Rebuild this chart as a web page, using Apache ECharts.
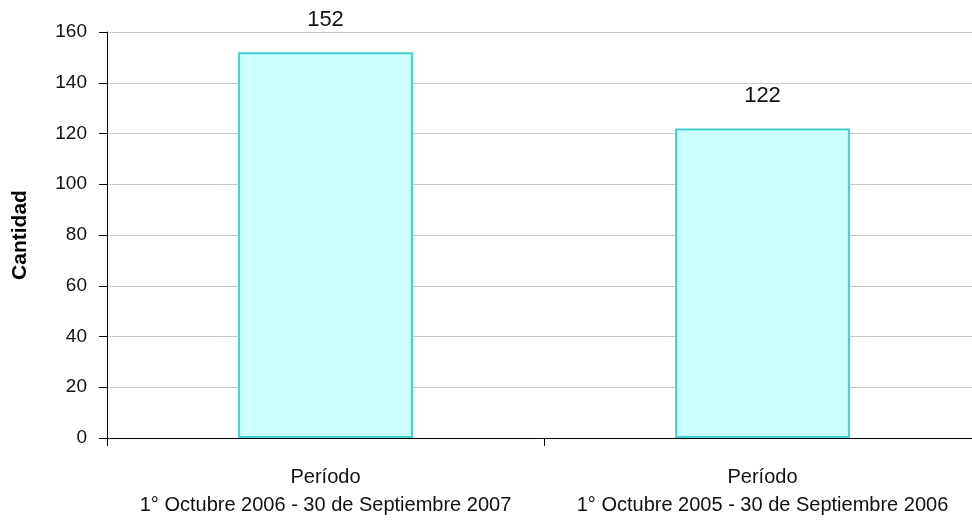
<!DOCTYPE html>
<html>
<head>
<meta charset="utf-8">
<script src="https://cdn.jsdelivr.net/npm/echarts@6/dist/echarts.min.js"></script>
<style>
  html, body { margin: 0; padding: 0; background: #fff; }
  #chart { width: 972px; height: 524px; }
</style>
</head>
<body>
<div id="chart"></div>
<script>
// datos
const periodos = [
  "Período\n1° Octubre 2006 - 30 de Septiembre 2007",
  "Período\n1° Octubre 2005 - 30 de Septiembre 2006"
];
const cantidades = [152, 122];
const yTicks = { min: 0, max: 160, interval: 20 };

const myChart = echarts.init(document.getElementById("chart"));
myChart.setOption({
  animation: false,
  textStyle: { fontFamily: "Liberation Sans" },
  grid: { left: 107, width: 874, top: 32, height: 406, outerBoundsMode: "none", containLabel: false },
  xAxis: {
    type: "category",
    data: periodos,
    axisLine: { lineStyle: { color: "#000", width: 1 } },
    axisTick: { show: true, alignWithLabel: false, length: 8, lineStyle: { color: "#000" } },
    axisLabel: { color: "#111", fontSize: 20, lineHeight: 28, margin: 25, interval: 0, hideOverlap: false }
  },
  yAxis: {
    type: "value",
    min: yTicks.min,
    max: yTicks.max,
    interval: yTicks.interval,
    name: "Cantidad",
    nameLocation: "middle",
    nameGap: 76,
    nameRotate: 90,
    nameTextStyle: { color: "#000", fontWeight: "bold", fontSize: 21, fontFamily: "Liberation Sans" },
    axisLine: { show: true, lineStyle: { color: "#000" } },
    axisTick: { show: true, length: 8, lineStyle: { color: "#000" } },
    axisLabel: { color: "#111", fontSize: 19, margin: 20 },
    splitLine: { lineStyle: { color: "#c8c8c8" } }
  },
  series: [
    {
      type: "bar",
      data: cantidades,
      barWidth: "40%",
      itemStyle: { color: "#ccffff", borderColor: "#40d0d0", borderWidth: 2 },
      label: { show: true, position: "top", distance: 21, color: "#111", fontSize: 22 }
    }
  ]
});
</script>
</body>
</html>
